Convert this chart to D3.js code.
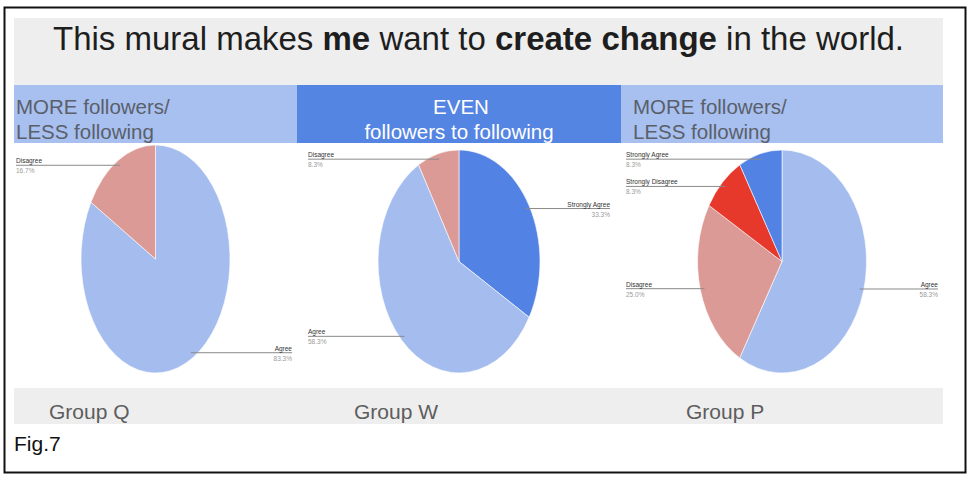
<!DOCTYPE html>
<html>
<head>
<meta charset="utf-8">
<script src="https://d3js.org/d3.v7.min.js"></script>
<style>
  body { margin: 0; background: #fff; }
  svg { display: block; font-family: "Liberation Sans", Arial, Helvetica, sans-serif; }
</style>
</head>
<body>
<svg id="chart" width="977" height="483"></svg>
<script>
// data
var groups = ["Group Q", "Group W", "Group P"];
var headerLine1 = ["MORE followers/", "EVEN", "MORE followers/"];
var headerLine2 = ["LESS following", "followers to following", "LESS following"];
var groupQ = [{label: "Agree", value: 83.3}, {label: "Disagree", value: 16.7}];
var groupW = [{label: "Strongly Agree", value: 33.3}, {label: "Agree", value: 58.3}, {label: "Disagree", value: 8.3}];
var groupP = [{label: "Agree", value: 58.3}, {label: "Disagree", value: 25.0},
              {label: "Strongly Disagree", value: 8.3}, {label: "Strongly Agree", value: 8.3}];
var groupData = [groupQ, groupW, groupP];

var colors = {
  "Strongly Agree": "#5282e4",
  "Agree": "#a5bdee",
  "Disagree": "#dc9a97",
  "Strongly Disagree": "#e7392b"
};

// layout
var svg = d3.select("#chart");
var panelLeft = 14, panelRight = 943;
var sectionEdges = [14, 297, 621, 943];
var pieRx = [74.5, 81, 84.5], pieRy = [114, 111.5, 111.5];
var pieCy = [259, 261.5, 261.5];
var labelLeft = [16, 308, 626], labelRight = [292, 610, 938];
var groupLabelX = [49, 354, 686];

// outer frame
svg.append("rect")
  .attr("x", 4.5).attr("y", 7.5)
  .attr("width", 961).attr("height", 465)
  .attr("fill", "none").attr("stroke", "#111").attr("stroke-width", 2);

// title panel
svg.append("rect")
  .attr("x", panelLeft).attr("y", 18)
  .attr("width", panelRight - panelLeft).attr("height", 67)
  .attr("fill", "#eeeeee");

var title = svg.append("text")
  .attr("x", (panelLeft + panelRight) / 2).attr("y", 50)
  .attr("text-anchor", "middle")
  .attr("font-size", 33).attr("fill", "#1e1e1e");
title.append("tspan").text("This mural makes ");
title.append("tspan").attr("font-weight", "bold").text("me");
title.append("tspan").text(" want to ");
title.append("tspan").attr("font-weight", "bold").text("create change");
title.append("tspan").text(" in the world.");

// header band
var x = d3.scaleOrdinal().domain(groups).range([0, 1, 2]);

var header = svg.selectAll(".header")
  .data(groups)
  .enter().append("g")
  .attr("class", "header");

header.append("rect")
  .attr("x", function(d, i) { return sectionEdges[i]; })
  .attr("y", 85)
  .attr("width", function(d, i) { return sectionEdges[i + 1] - sectionEdges[i]; })
  .attr("height", 58)
  .attr("fill", function(d, i) { return i == 1 ? "#5585e2" : "#a8c0f0"; });

header.append("text")
  .attr("x", function(d, i) { return i == 1 ? (sectionEdges[1] + sectionEdges[2]) / 2 + 2 : (i == 0 ? 16 : 633); })
  .attr("y", 114)
  .attr("text-anchor", function(d, i) { return i == 1 ? "middle" : "start"; })
  .attr("font-size", 20.5)
  .attr("fill", function(d, i) { return i == 1 ? "#ffffff" : "#5a5f6a"; })
  .text(function(d, i) { return headerLine1[i]; });

header.append("text")
  .attr("x", function(d, i) { return i == 1 ? (sectionEdges[1] + sectionEdges[2]) / 2 : (i == 0 ? 16 : 633); })
  .attr("y", 139)
  .attr("text-anchor", function(d, i) { return i == 1 ? "middle" : "start"; })
  .attr("font-size", 20.5)
  .attr("fill", function(d, i) { return i == 1 ? "#ffffff" : "#5a5f6a"; })
  .text(function(d, i) { return headerLine2[i]; });

// pies
var pie = d3.pie().sort(null).value(function(d) { return d.value; });
var arc = d3.arc().innerRadius(0).outerRadius(1);

groupData.forEach(function(data, gi) {
  var cx = (sectionEdges[gi] + sectionEdges[gi + 1]) / 2;
  var cy = pieCy[gi], rx = pieRx[gi], ry = pieRy[gi];
  var slices = pie(data);

  var g = svg.append("g")
    .attr("transform", "translate(" + cx + "," + cy + ") scale(" + rx + "," + ry + ")");

  g.selectAll("path")
    .data(slices)
    .enter().append("path")
    .attr("d", arc)
    .attr("fill", function(d) { return colors[d.data.label]; })
    .attr("stroke", "#ffffff")
    .attr("stroke-width", 0.6)
    .attr("vector-effect", "non-scaling-stroke");

  // leader lines + labels
  var lab = svg.selectAll(".lab" + gi)
    .data(slices)
    .enter().append("g")
    .attr("class", "lab" + gi);

  function anchor(d) {
    var a = (d.startAngle + d.endAngle) / 2;
    return [cx + Math.sin(a) * rx * 0.95, cy - Math.cos(a) * ry * 0.95];
  }
  function isRight(d) { return (d.startAngle + d.endAngle) / 2 < Math.PI; }
  function lx(d) { return isRight(d) ? labelRight[gi] : labelLeft[gi]; }

  lab.append("line")
    .attr("x1", function(d) { return anchor(d)[0]; })
    .attr("y1", function(d) { return anchor(d)[1]; })
    .attr("x2", lx)
    .attr("y2", function(d) { return anchor(d)[1]; })
    .attr("stroke", "#8a8a8a")
    .attr("stroke-width", 1);

  lab.append("text")
    .attr("x", lx)
    .attr("y", function(d) { return anchor(d)[1] - 2; })
    .attr("text-anchor", function(d) { return isRight(d) ? "end" : "start"; })
    .attr("font-size", 6.5)
    .attr("fill", "#333")
    .text(function(d) { return d.data.label; });

  lab.append("text")
    .attr("x", lx)
    .attr("y", function(d) { return anchor(d)[1] + 8; })
    .attr("text-anchor", function(d) { return isRight(d) ? "end" : "start"; })
    .attr("font-size", 6.5)
    .attr("fill", "#9a9a9a")
    .text(function(d) { return d.data.value.toFixed(1) + "%"; });
});

// bottom panel with group names
svg.append("rect")
  .attr("x", panelLeft).attr("y", 388)
  .attr("width", panelRight - panelLeft).attr("height", 36)
  .attr("fill", "#eeeeee");

svg.selectAll(".groupname")
  .data(groups)
  .enter().append("text")
  .attr("class", "groupname")
  .attr("x", function(d) { return groupLabelX[x(d)]; })
  .attr("y", 419)
  .attr("font-size", 21)
  .attr("fill", "#5d5d5d")
  .text(function(d) { return d; });

svg.append("text")
  .attr("x", 14).attr("y", 451)
  .attr("font-size", 21)
  .attr("fill", "#111")
  .text("Fig.7");
</script>
</body>
</html>
